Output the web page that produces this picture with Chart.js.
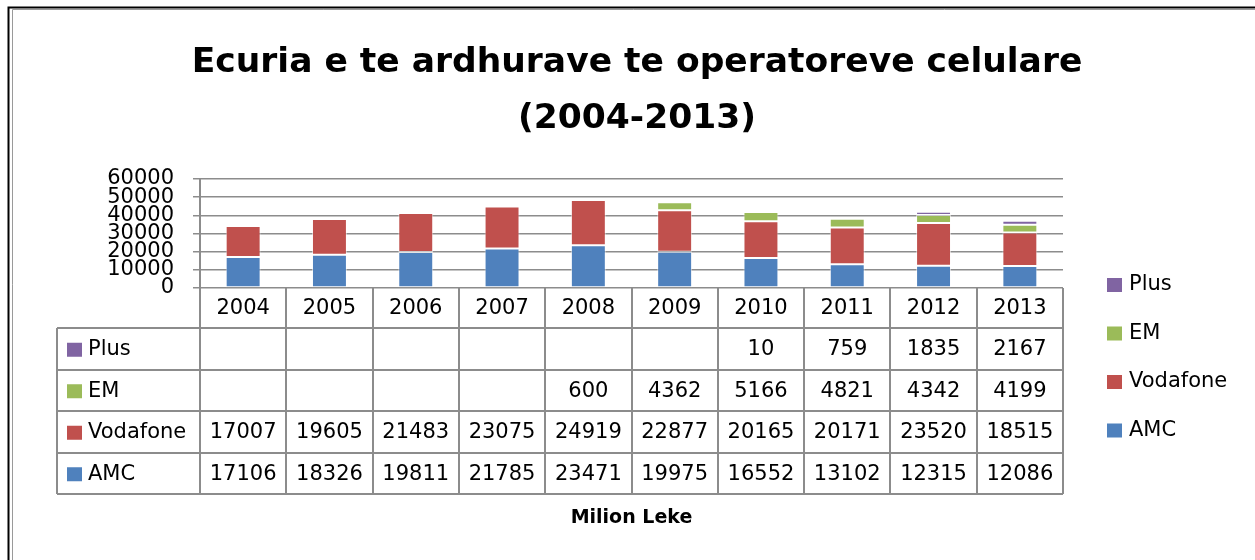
<!DOCTYPE html>
<html>
<head>
<meta charset="utf-8">
<script src="https://cdn.jsdelivr.net/npm/chart.js@4/dist/chart.umd.min.js"></script>
<style>
  html, body { margin: 0; padding: 0; background: #fff; }
  #wrap { width: 1255px; height: 560px; }
</style>
</head>
<body>
<div id="wrap"><canvas id="myChart" width="1255" height="560"></canvas></div>
<script>
// data
const years = ['2004', '2005', '2006', '2007', '2008', '2009', '2010', '2011', '2012', '2013'];
const amc = [17106, 18326, 19811, 21785, 23471, 19975, 16552, 13102, 12315, 12086];
const vodafone = [17007, 19605, 21483, 23075, 24919, 22877, 20165, 20171, 23520, 18515];
const em = [null, null, null, null, 600, 4362, 5166, 4821, 4342, 4199];
const plus = [null, null, null, null, null, null, 10, 759, 1835, 2167];
const yTicks = [0, 10000, 20000, 30000, 40000, 50000, 60000];
const titleLines = ['Ecuria e te ardhurave te operatoreve celulare', '(2004-2013)'];
const axisTitle = 'Milion Leke';

const FONT = 'DejaVu Sans';
const gridGrey = '#8c8c8c';

// title, table under the plot, legend and the frame
const tablePlugin = {
    id: 'dataTable',
    afterDraw(chart) {
        const ctx = chart.ctx;
        const x = chart.scales.x;
        const area = chart.chartArea;
        const colW = x.width / years.length;
        const headTop = area.bottom;
        const headH = 40;
        const rowH = 41.5;
        const labelLeft = 57;
        // rows drawn top to bottom, reversed series order like excel
        const rows = chart.data.datasets.slice().reverse();
        const tableBottom = headTop + headH + rows.length * rowH;

        ctx.save();

        // title
        ctx.fillStyle = '#000';
        ctx.textAlign = 'center';
        ctx.textBaseline = 'middle';
        ctx.font = 'bold 34.5px "' + FONT + '"';
        titleLines.forEach((t, i) => ctx.fillText(t, 637, 63 + i * 56));

        ctx.strokeStyle = gridGrey;
        ctx.lineWidth = 2;
        ctx.beginPath();
        // vertical lines
        for (let i = 0; i <= years.length; i++) {
            const lx = Math.round(area.left + i * colW);
            ctx.moveTo(lx, headTop);
            ctx.lineTo(lx, tableBottom);
        }
        ctx.moveTo(labelLeft, headTop + headH);
        ctx.lineTo(labelLeft, tableBottom);
        // horizontal lines
        for (let r = 0; r <= rows.length; r++) {
            const ly = Math.round(headTop + headH + r * rowH);
            ctx.moveTo(labelLeft, ly);
            ctx.lineTo(area.right, ly);
        }
        ctx.stroke();

        ctx.fillStyle = '#000';
        ctx.font = '21px "' + FONT + '"';
        ctx.textAlign = 'center';
        years.forEach((yr, i) => {
            ctx.fillText(yr, x.getPixelForValue(i), headTop + headH / 2 + 1);
        });

        rows.forEach((ds, r) => {
            const cy = headTop + headH + r * rowH + rowH / 2 + 1;
            ctx.fillStyle = ds.backgroundColor;
            ctx.fillRect(67, cy - 7, 15, 14);
            ctx.fillStyle = '#000';
            ctx.textAlign = 'left';
            ctx.fillText(ds.label, 88, cy);
            ctx.textAlign = 'center';
            ds.data.forEach((v, i) => {
                if (v !== null) ctx.fillText(String(v), x.getPixelForValue(i), cy);
            });
        });

        // legend on the right
        ctx.textAlign = 'left';
        rows.forEach((ds, r) => {
            const cy = 285 + r * 48.5;
            ctx.fillStyle = ds.backgroundColor;
            ctx.fillRect(1107, cy - 7, 15, 14);
            ctx.fillStyle = '#000';
            ctx.fillText(ds.label, 1129, cy);
        });

        // axis title
        ctx.textAlign = 'center';
        ctx.font = 'bold 19px "' + FONT + '"';
        ctx.fillText(axisTitle, (area.left + area.right) / 2, 518);

        // outer frame
        ctx.strokeStyle = '#000';
        ctx.lineWidth = 2;
        ctx.beginPath();
        ctx.moveTo(8.5, 560);
        ctx.lineTo(8.5, 7.5);
        ctx.lineTo(1255, 7.5);
        ctx.stroke();
        ctx.strokeStyle = '#9a9a9a';
        ctx.lineWidth = 1;
        ctx.beginPath();
        ctx.moveTo(12.5, 560);
        ctx.lineTo(12.5, 9.5);
        ctx.lineTo(1255, 9.5);
        ctx.stroke();
        ctx.restore();
    }
};

const ctx = document.getElementById('myChart').getContext('2d');
const myChart = new Chart(ctx, {
    type: 'bar',
    data: {
        labels: years,
        datasets: [
            { label: 'AMC', data: amc, backgroundColor: '#4F81BD' },
            { label: 'Vodafone', data: vodafone, backgroundColor: '#C0504D' },
            { label: 'EM', data: em, backgroundColor: '#9BBB59' },
            { label: 'Plus', data: plus, backgroundColor: '#8064A2' }
        ]
    },
    options: {
        responsive: false,
        animation: false,
        datasets: {
            bar: {
                categoryPercentage: 1,
                barPercentage: 0.405,
                borderWidth: 1,
                borderColor: 'rgba(255,255,255,0.55)',
                borderSkipped: false
            }
        },
        layout: {
            padding: { left: 0, right: 192, top: 179, bottom: 272 }
        },
        scales: {
            x: {
                stacked: true,
                display: false
            },
            y: {
                stacked: true,
                min: 0,
                max: 60000,
                afterBuildTicks: (scale) => {
                    scale.ticks = yTicks.map(v => ({ value: v }));
                },
                afterFit: (scale) => {
                    scale.width = 200;
                },
                ticks: {
                    color: '#000',
                    padding: 19,
                    autoSkip: false,
                    callback: (v) => String(v),
                    font: { family: FONT, size: 21 }
                },
                grid: {
                    color: gridGrey,
                    lineWidth: 1.5,
                    tickLength: 7
                },
                border: {
                    color: gridGrey,
                    width: 2
                }
            }
        },
        plugins: {
            legend: { display: false },
            tooltip: { enabled: false },
            title: { display: false }
        }
    },
    plugins: [tablePlugin]
});
</script>
</body>
</html>
